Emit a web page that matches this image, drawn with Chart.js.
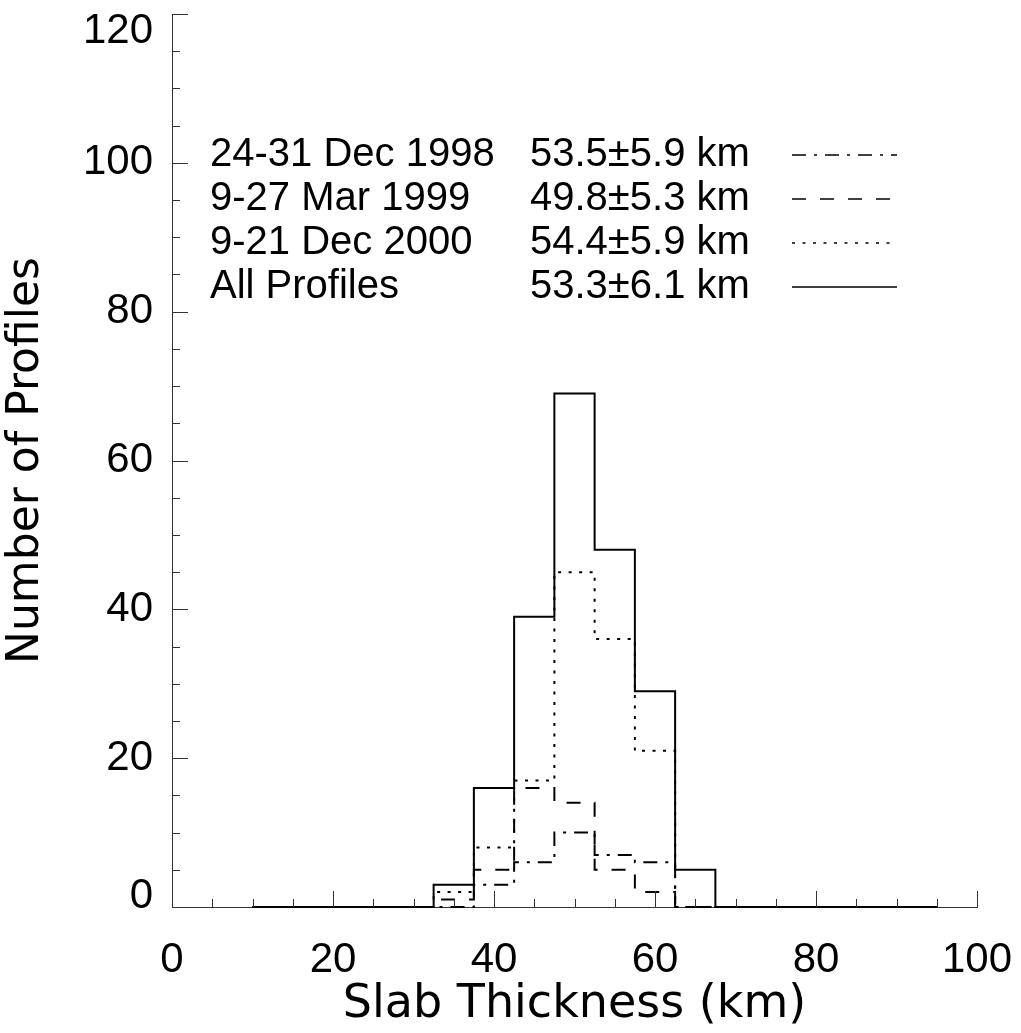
<!DOCTYPE html>
<html>
<head>
<meta charset="utf-8">
<script src="https://cdn.jsdelivr.net/npm/chart.js@4.4.1/dist/chart.umd.min.js"></script>
<style>
  html, body { margin: 0; padding: 0; background: #fff; }
</style>
</head>
<body>
<canvas id="slabChart" width="1021" height="1033"></canvas>
<script>
// histogram bin centres (km)
const binCenters = [10, 15, 20, 25, 30, 35, 40, 45, 50, 55, 60, 65, 70, 75, 80, 85, 90, 95];

// counts per bin
const dec1998 = [0, 0, 0, 0, 0, 0, 3, 6, 10, 7, 6, 0, 0, 0, 0, 0, 0, 0];
const mar1999 = [0, 0, 0, 0, 0, 1, 5, 16, 14, 5, 2, 0, 0, 0, 0, 0, 0, 0];
const dec2000 = [0, 0, 0, 0, 0, 2, 8, 17, 45, 36, 21, 0, 0, 0, 0, 0, 0, 0];
const allProfiles = [0, 0, 0, 0, 0, 3, 16, 39, 69, 48, 29, 5, 0, 0, 0, 0, 0, 0];

const legendNames = ['24-31 Dec 1998', '9-27 Mar 1999', '9-21 Dec 2000', 'All Profiles'];
const legendStats = ['53.5±5.9 km', '49.8±5.3 km', '54.4±5.9 km', '53.3±6.1 km'];

const xTickLabels = [0, 20, 40, 60, 80, 100];
const yTickLabels = [0, 20, 40, 60, 80, 100, 120];

const LABEL_FONT = "'Liberation Sans', Arial, sans-serif";
const TITLE_FONT = "'DejaVu Sans', sans-serif";

function toPoints(values) {
  return binCenters.map((c, i) => ({ x: c, y: values[i] }));
}

function series(label, values, dash) {
  return {
    label: label,
    data: toPoints(values),
    stepped: 'middle',
    borderColor: '#000',
    borderWidth: 2,
    borderDash: dash,
    borderCapStyle: 'butt',
    pointRadius: 0,
    fill: false,
    clip: false
  };
}

// inward ticks, y labels and the text legend
const axisDecor = {
  id: 'axisDecor',
  afterDraw(chart) {
    const { ctx, chartArea } = chart;
    const xs = chart.scales.x;
    const ys = chart.scales.y;
    ctx.save();
    ctx.strokeStyle = '#333';
    ctx.lineWidth = 1;
    ctx.setLineDash([]);
    ctx.beginPath();
    for (let v = ys.min; v <= ys.max; v += 5) {
      const py = Math.round(ys.getPixelForValue(v)) + 0.5;
      const len = yTickLabels.includes(v) ? 16 : 8;
      ctx.moveTo(chartArea.left, py);
      ctx.lineTo(chartArea.left + len, py);
    }
    for (let v = xs.min; v <= xs.max; v += 5) {
      const px = Math.round(xs.getPixelForValue(v)) + 0.5;
      const len = xTickLabels.includes(v) ? 16 : 8;
      ctx.moveTo(px, chartArea.bottom);
      ctx.lineTo(px, chartArea.bottom - len);
    }
    ctx.stroke();

    // y tick labels (end labels kept inside the axis span)
    ctx.fillStyle = '#000';
    ctx.font = '42px ' + LABEL_FONT;
    ctx.textAlign = 'right';
    yTickLabels.forEach(v => {
      const py = ys.getPixelForValue(v);
      if (v === ys.max) {
        ctx.textBaseline = 'top';
        ctx.fillText(String(v), chartArea.left - 19, py - 4);
      } else if (v === ys.min) {
        ctx.textBaseline = 'alphabetic';
        ctx.fillText(String(v), chartArea.left - 19, py + 1);
      } else {
        ctx.textBaseline = 'middle';
        ctx.fillText(String(v), chartArea.left - 19, py);
      }
    });

    // legend
    const sets = chart.data.datasets;
    ctx.font = '40px ' + LABEL_FONT;
    ctx.textAlign = 'left';
    ctx.textBaseline = 'middle';
    legendNames.forEach((name, i) => {
      const rowY = 155 + i * 44;
      ctx.fillText(name, 210, rowY);
      ctx.fillText(legendStats[i], 530, rowY);
      const ds = sets[i];
      ctx.lineWidth = 1.5;
      ctx.strokeStyle = '#000';
      ctx.setLineDash(ds.borderDash || []);
      ctx.beginPath();
      ctx.moveTo(792, rowY);
      ctx.lineTo(897, rowY);
      ctx.stroke();
    });
    ctx.restore();
  }
};

const chart = new Chart(document.getElementById('slabChart').getContext('2d'), {
  type: 'line',
  data: {
    datasets: [
      series(legendNames[0], dec1998, [14, 8, 3, 8]),
      series(legendNames[1], mar1999, [14, 14]),
      series(legendNames[2], dec2000, [3, 7.5]),
      series(legendNames[3], allProfiles, [])
    ]
  },
  options: {
    responsive: false,
    animation: false,
    layout: { padding: { top: 14, right: 44, left: 0, bottom: 0 } },
    plugins: {
      legend: { display: false },
      tooltip: { enabled: false }
    },
    scales: {
      x: {
        type: 'linear',
        min: 0,
        max: 100,
        grid: { display: false },
        border: { display: true, color: '#333', width: 1 },
        ticks: {
          stepSize: 20,
          color: '#000',
          padding: 20,
          maxRotation: 0,
          font: { family: LABEL_FONT, size: 42 }
        },
        title: {
          display: true,
          text: 'Slab Thickness (km)',
          color: '#000',
          padding: 0,
          font: { family: TITLE_FONT, size: 46 }
        },
        afterFit(scale) {
          scale.height = 126;
          scale.paddingLeft = 0;
          scale.paddingRight = 0;
        }
      },
      y: {
        min: 0,
        max: 120,
        grid: { display: false },
        border: { display: true, color: '#333', width: 1 },
        ticks: { stepSize: 20, display: false },
        title: {
          display: true,
          text: 'Number of Profiles',
          color: '#000',
          padding: 0,
          font: { family: TITLE_FONT, size: 44 }
        },
        afterFit(scale) {
          scale.width = 172;
          scale.paddingTop = 0;
          scale.paddingBottom = 0;
        }
      }
    }
  },
  plugins: [axisDecor]
});
</script>
</body>
</html>
